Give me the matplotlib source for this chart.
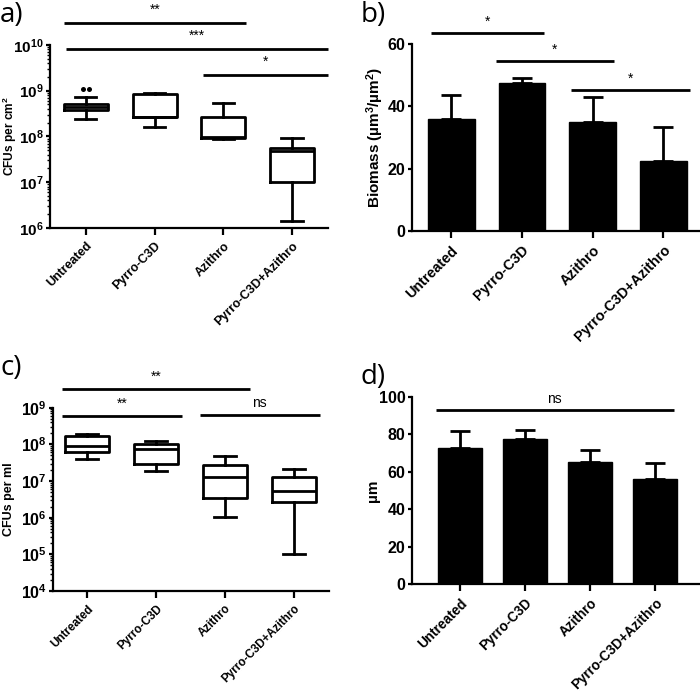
import matplotlib
matplotlib.use('Agg')
import matplotlib.pyplot as plt
from matplotlib.ticker import LogLocator, LogFormatterSciNotation, NullFormatter, MultipleLocator

plt.rcParams['font.family'] = ['Liberation Sans', 'DejaVu Sans']
plt.rcParams['mathtext.fontset'] = 'custom'
plt.rcParams['mathtext.bf'] = 'Liberation Sans:bold'
plt.rcParams['mathtext.rm'] = 'Liberation Sans:bold'
plt.rcParams['mathtext.default'] = 'bf'

groups = ['Untreated', 'Pyrro-C3D', 'Azithro', 'Pyrro-C3D+Azithro']

# a) biofilm CFUs per cm2 (box stats read off the picture)
a_whislo = [2.4e8, 1.6e8, 8.8e7, 1.4e6]
a_q1 = [3.8e8, 2.6e8, 9.1e7, 1.0e7]
a_med = [4.4e8, 2.7e8, 9.5e7, 4.7e7]
a_q3 = [5.2e8, 8.3e8, 2.7e8, 5.5e7]
a_whishi = [7.3e8, 9.0e8, 5.5e8, 9.3e7]
a_fliers = [[1.1e9, 1.1e9], [], [], []]

# b) biomass
b_mean = [35.8, 47.4, 34.8, 22.5]
b_sd = [7.7, 1.6, 8.0, 10.7]

# c) CFUs per ml
c_whislo = [3.9e7, 1.9e7, 1.07e6, 1.0e5]
c_q1 = [6.3e7, 3.0e7, 3.4e6, 2.6e6]
c_med = [9.0e7, 7.4e7, 1.3e7, 5.3e6]
c_q3 = [1.7e8, 1.0e8, 2.8e7, 1.26e7]
c_whishi = [1.95e8, 1.2e8, 4.7e7, 2.1e7]

# d) thickness
d_mean = [72.8, 77.3, 65.0, 56.1]
d_sd = [8.9, 4.9, 6.6, 8.4]

# significance bars: (from, to, y, label)
a_sig = [(-0.32, 2.33, 3.0e10, '**'), (-0.28, 3.52, 8.0e9, '***'), (1.7, 3.52, 2.2e9, '*')]
b_sig = [(-0.28, 1.32, 63.4, '*'), (0.63, 2.3, 54.4, '*'), (1.7, 3.38, 45.3, '*')]
c_sig = [(-0.36, 2.36, 3.2e9, '**'), (-0.36, 1.37, 5.9e8, '**'), (1.63, 3.38, 6.3e8, 'ns')]
d_sig = [(-0.37, 3.29, 92.9, 'ns')]

LW = 2.0

fig = plt.figure(figsize=(7.0, 6.91), dpi=100)


def style(ax, fs):
    ax.spines['top'].set_visible(False)
    ax.spines['right'].set_visible(False)
    for s in ('left', 'bottom'):
        ax.spines[s].set_linewidth(1.6)
    ax.tick_params(axis='x', which='major', width=1.6, length=5)
    ax.tick_params(axis='y', which='major', width=1.6, length=3, pad=1.5, labelsize=fs)
    ax.tick_params(axis='y', which='minor', width=1.0, length=2)
    for lab in ax.get_yticklabels():
        lab.set_fontweight('bold')


def xlabels(ax, fs):
    ax.set_xticks(range(len(groups)))
    ax.set_xticklabels(groups, rotation=45, ha='right', rotation_mode='anchor',
                       fontsize=fs, fontweight='bold')


def sig_bars(ax, sigs, log=False, fs=10):
    for x0, x1, y, lab in sigs:
        ax.plot([x0, x1], [y, y], color='black', lw=LW, clip_on=False, solid_capstyle='butt')
        ty = y * 1.4 if log else y + 2.2 * (ax.get_ylim()[1] / 100)
        ax.text((x0 + x1) / 2, ty, lab, ha='center', va='bottom', fontsize=fs, clip_on=False)


def boxes(ax, lo, q1, med, q3, hi, fliers):
    stats = []
    for i in range(len(groups)):
        stats.append(dict(whislo=lo[i], q1=q1[i], med=med[i], q3=q3[i], whishi=hi[i], fliers=[]))
    ax.bxp(stats, positions=range(len(groups)), widths=0.64, showfliers=False,
           boxprops=dict(lw=LW, color='black'), medianprops=dict(lw=LW, color='black'),
           whiskerprops=dict(lw=LW, color='black'), capprops=dict(lw=LW, color='black'),
           capwidths=0.31)
    for i, fl in enumerate(fliers):
        n = len(fl)
        for k, v in enumerate(fl):
            ax.plot(i + (k - (n - 1) / 2) * 0.08, v, 'o', color='black', ms=3.6, mew=0)


def log_axis(ax, lo, hi):
    ax.set_yscale('log')
    ax.set_ylim(lo, hi)
    ax.yaxis.set_major_locator(LogLocator(base=10, numticks=20))
    ax.yaxis.set_minor_locator(LogLocator(base=10, subs=range(2, 10), numticks=50))
    ax.yaxis.set_major_formatter(LogFormatterSciNotation())
    ax.yaxis.set_minor_formatter(NullFormatter())


# panel a
ax = fig.add_axes([0.0714, 0.670, 0.397, 0.265])
boxes(ax, a_whislo, a_q1, a_med, a_q3, a_whishi, a_fliers)
log_axis(ax, 1e6, 1e10)
ax.set_xlim(-0.52, 3.52)
xlabels(ax, 9.0)
style(ax, 11)
ax.set_ylabel('CFUs per cm$^{2}$', fontsize=8.6, fontweight='bold')
ax.yaxis.set_label_coords(-0.113, 0.5)
sig_bars(ax, a_sig, log=True)

# panel b
ax = fig.add_axes([0.588, 0.665, 0.412, 0.272])
ax.bar(range(len(groups)), b_mean, width=0.66, color='black', edgecolor='black')
ax.errorbar(range(len(groups)), b_mean, yerr=[[0] * 4, b_sd], fmt='none', ecolor='black',
            elinewidth=LW, capsize=7, capthick=LW)
ax.set_ylim(0, 60)
ax.set_xlim(-0.56, 3.52)
ax.yaxis.set_major_locator(MultipleLocator(20))
xlabels(ax, 10.4)
style(ax, 11.5)
ax.set_ylabel('Biomass (µm$^{3}$/µm$^{2}$)', fontsize=11, fontweight='bold')
ax.yaxis.set_label_coords(-0.088, 0.5)
sig_bars(ax, b_sig)

# panel c
ax = fig.add_axes([0.0762, 0.1447, 0.394, 0.2653])
boxes(ax, c_whislo, c_q1, c_med, c_q3, c_whishi, [[], [], [], []])
log_axis(ax, 1e4, 1e9)
ax.set_xlim(-0.49, 3.51)
xlabels(ax, 8.4)
style(ax, 11.5)
ax.set_ylabel('CFUs per ml', fontsize=9, fontweight='bold')
ax.yaxis.set_label_coords(-0.14, 0.5)
sig_bars(ax, c_sig, log=True)

# panel d
ax = fig.add_axes([0.588, 0.1544, 0.412, 0.2715])
ax.bar(range(len(groups)), d_mean, width=0.67, color='black', edgecolor='black')
ax.errorbar(range(len(groups)), d_mean, yerr=[[0] * 4, d_sd], fmt='none', ecolor='black',
            elinewidth=LW, capsize=7, capthick=LW)
ax.set_ylim(0, 100)
ax.set_xlim(-0.74, 3.69)
ax.yaxis.set_major_locator(MultipleLocator(20))
xlabels(ax, 9.8)
style(ax, 11.5)
ax.set_ylabel('µm', fontsize=11, fontweight='bold')
ax.yaxis.set_label_coords(-0.11, 0.5)
sig_bars(ax, d_sig)

for lab, x, y in [('a)', 0.0, 0.978), ('b)', 0.515, 0.978), ('c)', 0.0, 0.468), ('d)', 0.515, 0.455)]:
    fig.text(x, y, lab, fontsize=20, family=['Open Sans', 'DejaVu Sans'], va='center', ha='left')

fig.savefig('out.png', dpi=100)
